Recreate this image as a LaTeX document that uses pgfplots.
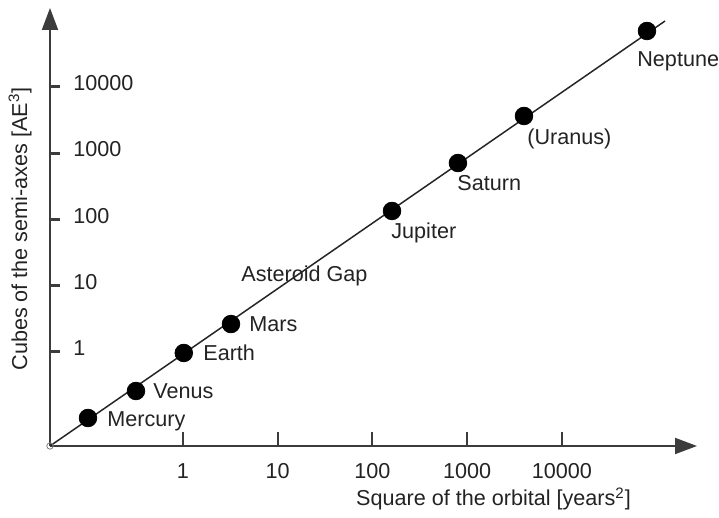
\documentclass[border=0pt]{standalone}
\usepackage{pgfplots}
\pgfplotsset{compat=1.18}
\usepackage{fontspec}
\setmainfont{Liberation Sans}
\usetikzlibrary{arrows.meta}
\definecolor{ax}{RGB}{60,60,60}
\definecolor{tx}{RGB}{35,35,35}
\begin{document}
\fontsize{10.8}{13}\selectfont
\begin{tikzpicture}
\useasboundingbox (-25pt,-36pt) rectangle (334.5pt,223pt);
\begin{axis}[
  scale only axis, width=323.5pt, height=219pt,
  xmode=log, ymode=log,
  xmin=0.0395, xmax=266000, ymin=0.0382, ymax=154500,
  axis lines=left,
  axis line style={-{Triangle[length=11pt,width=8pt]}, line width=1pt, draw=ax},
  clip=false,
  xtick={1,10,100,1000,10000}, xticklabels={1,10,100,1000,10000},
  ytick={1,10,100,1000,10000}, yticklabels={1,10,100,1000,10000},
  xminorticks=false, yminorticks=false,
  tick align=inside,
  xtick style={/pgfplots/major tick length=7pt, line width=1pt, draw=ax},
  ytick style={/pgfplots/major tick length=5pt, line width=1.5pt, draw=ax},
  xticklabel style={anchor=north, inner sep=0pt, yshift=-8.5pt, text=tx},
  yticklabel style={anchor=west, inner sep=0pt, xshift=11.5pt, yshift=1.8pt, text=tx},
  xlabel={Square of the orbital [years\textsuperscript{2}]},
  ylabel={Cubes of the semi-axes [AE\textsuperscript{3}]},
  every axis x label/.style={at={(axis description cs:0.6855,0)}, anchor=base, yshift=-30pt, text=tx},
  every axis y label/.style={at={(axis description cs:-0.0355,0.4954)}, anchor=base, rotate=90, text=tx},
]
\addplot[line width=0.75pt, color=black!85] coordinates {(0.0395,0.0382) (122200,98200)};
\addplot[only marks, mark=*, mark size=4.4pt, black] coordinates {
  (0.0994,0.101) (0.319,0.258) (1.02,0.966) (3.21,2.64) (160.7,134)
  (798,709) (3972,3630) (78900,69500)};
\addplot[only marks, mark=o, mark size=1.6pt, gray, mark options={fill=white}] coordinates {(0.0395,0.0382)};
\node[anchor=base west, inner sep=0pt, text=tx] at (axis cs:0.1578,0.0739) {Mercury};
\node[anchor=base west, inner sep=0pt, text=tx] at (axis cs:0.4825,0.1955) {Venus};
\node[anchor=base west, inner sep=0pt, text=tx] at (axis cs:1.626,0.757) {Earth};
\node[anchor=base west, inner sep=0pt, text=tx] at (axis cs:4.974,2.003) {Mars};
\node[anchor=base west, inner sep=0pt, text=tx] at (axis cs:4.094,11.77) {Asteroid Gap};
\node[anchor=base west, inner sep=0pt, text=tx] at (axis cs:156.8,52.4) {Jupiter};
\node[anchor=base west, inner sep=0pt, text=tx] at (axis cs:779.6,277.5) {Saturn};
\node[anchor=base west, inner sep=0pt, text=tx] at (axis cs:4272,1371) {(Uranus)};
\node[anchor=base west, inner sep=0pt, text=tx] at (axis cs:61880,20590) {Neptune};
\end{axis}
\end{tikzpicture}
\end{document}
